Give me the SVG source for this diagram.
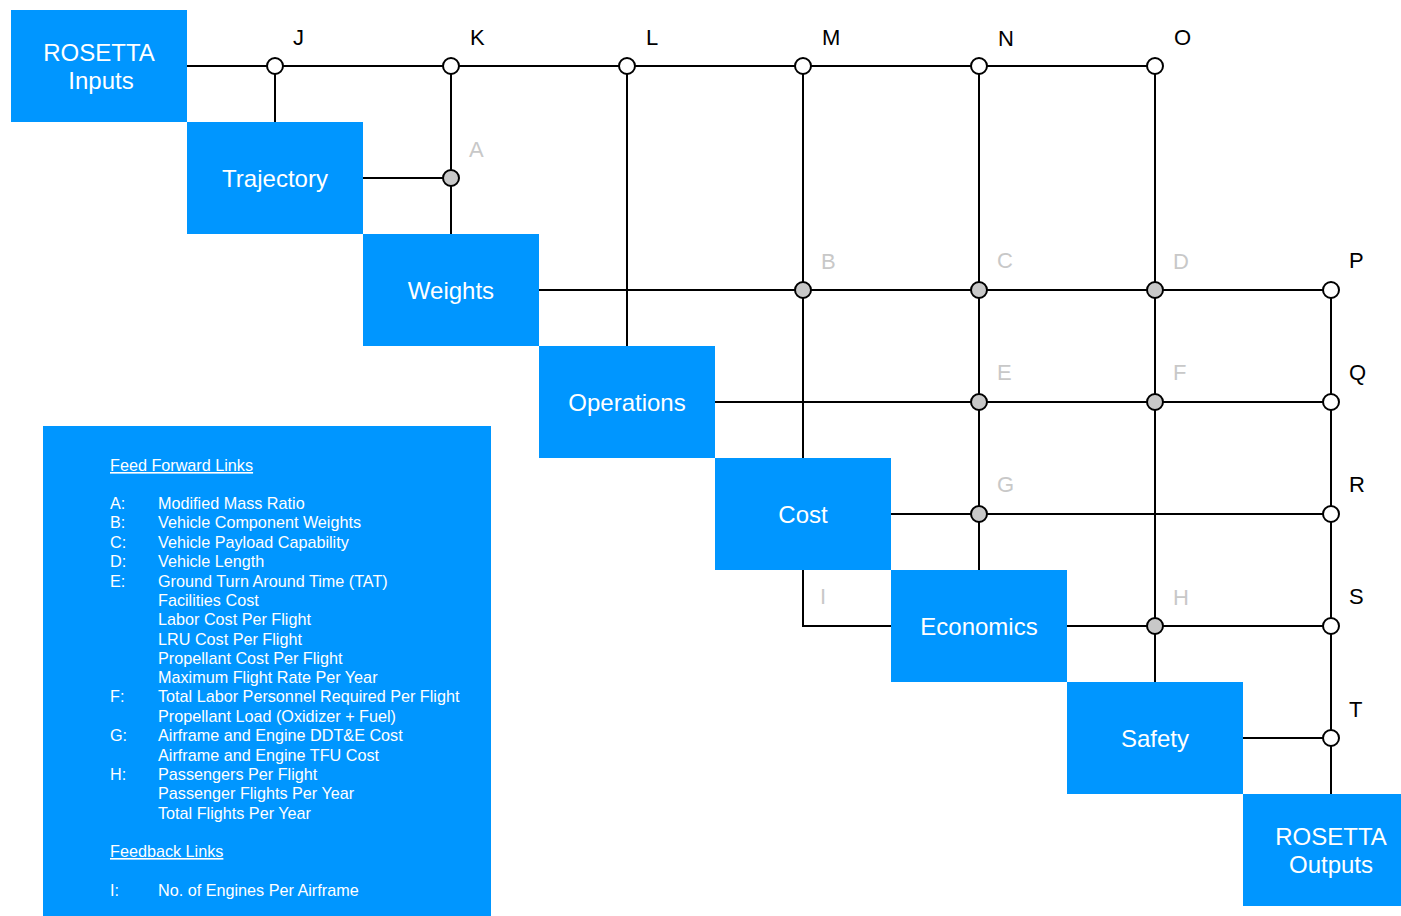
<svg xmlns="http://www.w3.org/2000/svg" width="1401" height="916" viewBox="0 0 1401 916">
<style>
.box{fill:#0096ff}
.bt{font-family:"Liberation Sans",Arial,sans-serif;font-size:24px;fill:#fff;text-anchor:middle}
.ln{stroke:#000;stroke-width:2;fill:none}
.open{fill:#fff;stroke:#000;stroke-width:2}
.cpl{fill:#c8c8c8;stroke:#000;stroke-width:2}
.lk{font-family:"Liberation Sans",Arial,sans-serif;font-size:22px;fill:#000}
.lg{font-family:"Liberation Sans",Arial,sans-serif;font-size:22px;fill:#c8c8c8}
.tx{font-family:"Liberation Sans",Arial,sans-serif;font-size:16.2px;fill:#fff}
.ul{text-decoration:underline}
</style>
<rect width="1401" height="916" fill="#fff"/>
<g id="connectors">
<path class="ln" d="M187 66H1155"/>
<path class="ln" d="M275 66V122"/>
<path class="ln" d="M451 66V234"/>
<path class="ln" d="M363 178H451"/>
<path class="ln" d="M627 66V346"/>
<path class="ln" d="M803 66V458"/>
<path class="ln" d="M979 66V570"/>
<path class="ln" d="M1155 66V682"/>
<path class="ln" d="M539 290H1331"/>
<path class="ln" d="M715 402H1331"/>
<path class="ln" d="M891 514H1331"/>
<path class="ln" d="M1067 626H1331"/>
<path class="ln" d="M1243 738H1331"/>
<path class="ln" d="M1331 290V794"/>
<path class="ln" d="M803 570V626H891"/>
</g>
<g id="junctions">
<circle class="open" cx="275" cy="66" r="8"/>
<circle class="open" cx="451" cy="66" r="8"/>
<circle class="open" cx="627" cy="66" r="8"/>
<circle class="open" cx="803" cy="66" r="8"/>
<circle class="open" cx="979" cy="66" r="8"/>
<circle class="open" cx="1155" cy="66" r="8"/>
<circle class="cpl" cx="451" cy="178" r="8"/>
<circle class="cpl" cx="803" cy="290" r="8"/>
<circle class="cpl" cx="979" cy="290" r="8"/>
<circle class="cpl" cx="1155" cy="290" r="8"/>
<circle class="cpl" cx="979" cy="402" r="8"/>
<circle class="cpl" cx="1155" cy="402" r="8"/>
<circle class="cpl" cx="979" cy="514" r="8"/>
<circle class="cpl" cx="1155" cy="626" r="8"/>
<circle class="open" cx="1331" cy="290" r="8"/>
<circle class="open" cx="1331" cy="402" r="8"/>
<circle class="open" cx="1331" cy="514" r="8"/>
<circle class="open" cx="1331" cy="626" r="8"/>
<circle class="open" cx="1331" cy="738" r="8"/>
</g>
<g id="labels">
<text class="lk" x="293" y="45">J</text>
<text class="lk" x="470" y="45">K</text>
<text class="lk" x="646" y="45">L</text>
<text class="lk" x="822" y="45">M</text>
<text class="lk" x="998" y="46">N</text>
<text class="lk" x="1174" y="45">O</text>
<text class="lk" x="1349" y="268">P</text>
<text class="lk" x="1349" y="380">Q</text>
<text class="lk" x="1349" y="492">R</text>
<text class="lk" x="1349" y="604">S</text>
<text class="lk" x="1349" y="717">T</text>
<text class="lg" x="469" y="157">A</text>
<text class="lg" x="821" y="269">B</text>
<text class="lg" x="997" y="268">C</text>
<text class="lg" x="1173" y="269">D</text>
<text class="lg" x="997" y="380">E</text>
<text class="lg" x="1173" y="380">F</text>
<text class="lg" x="997" y="492">G</text>
<text class="lg" x="1173" y="605">H</text>
<text class="lg" x="820" y="604">I</text>
</g>
<g id="rosetta-inputs"><rect class="box" x="11" y="10" width="176" height="112"/><text class="bt" x="99" y="61">ROSETTA</text><text class="bt" x="101" y="89">Inputs</text></g>
<g id="trajectory"><rect class="box" x="187" y="122" width="176" height="112"/><text class="bt" x="275" y="187">Trajectory</text></g>
<g id="weights"><rect class="box" x="363" y="234" width="176" height="112"/><text class="bt" x="451" y="299">Weights</text></g>
<g id="operations"><rect class="box" x="539" y="346" width="176" height="112"/><text class="bt" x="627" y="411">Operations</text></g>
<g id="cost"><rect class="box" x="715" y="458" width="176" height="112"/><text class="bt" x="803" y="523">Cost</text></g>
<g id="economics"><rect class="box" x="891" y="570" width="176" height="112"/><text class="bt" x="979" y="635">Economics</text></g>
<g id="safety"><rect class="box" x="1067" y="682" width="176" height="112"/><text class="bt" x="1155" y="747">Safety</text></g>
<g id="rosetta-outputs"><rect class="box" x="1243" y="794" width="158" height="112"/><text class="bt" x="1331" y="845">ROSETTA</text><text class="bt" x="1331" y="873">Outputs</text></g>
<g id="legend">
<rect class="box" x="43" y="426" width="448" height="490"/>
<text class="tx ul" x="110" y="471">Feed Forward Links</text>
<text class="tx" x="110" y="509">A:</text><text class="tx" x="158" y="509">Modified Mass Ratio</text>
<text class="tx" x="110" y="528">B:</text><text class="tx" x="158" y="528">Vehicle Component Weights</text>
<text class="tx" x="110" y="548">C:</text><text class="tx" x="158" y="548">Vehicle Payload Capability</text>
<text class="tx" x="110" y="567">D:</text><text class="tx" x="158" y="567">Vehicle Length</text>
<text class="tx" x="110" y="587">E:</text><text class="tx" x="158" y="587">Ground Turn Around Time (TAT)</text>
<text class="tx" x="158" y="606">Facilities Cost</text>
<text class="tx" x="158" y="625">Labor Cost Per Flight</text>
<text class="tx" x="158" y="645">LRU Cost Per Flight</text>
<text class="tx" x="158" y="664">Propellant Cost Per Flight</text>
<text class="tx" x="158" y="683">Maximum Flight Rate Per Year</text>
<text class="tx" x="110" y="702">F:</text><text class="tx" x="158" y="702">Total Labor Personnel Required Per Flight</text>
<text class="tx" x="158" y="722">Propellant Load (Oxidizer + Fuel)</text>
<text class="tx" x="110" y="741">G:</text><text class="tx" x="158" y="741">Airframe and Engine DDT&amp;E Cost</text>
<text class="tx" x="158" y="761">Airframe and Engine TFU Cost</text>
<text class="tx" x="110" y="780">H:</text><text class="tx" x="158" y="780">Passengers Per Flight</text>
<text class="tx" x="158" y="799">Passenger Flights Per Year</text>
<text class="tx" x="158" y="819">Total Flights Per Year</text>
<text class="tx ul" x="110" y="857">Feedback Links</text>
<text class="tx" x="110" y="896">I:</text><text class="tx" x="158" y="896">No. of Engines Per Airframe</text>
</g>
</svg>
